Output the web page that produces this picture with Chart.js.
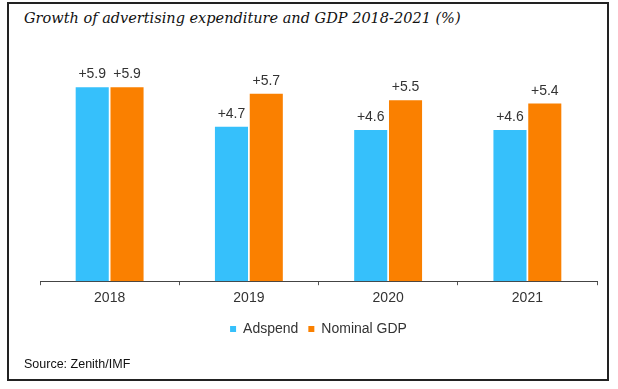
<!DOCTYPE html>
<html>
<head>
<meta charset="utf-8">
<script src="https://cdn.jsdelivr.net/npm/chart.js@4"></script>
<style>
  html, body { margin: 0; padding: 0; background: #fff; }
  #wrap { position: relative; width: 618px; height: 389px; }
  #frame { position: absolute; left: 7px; top: 2px; width: 598px; height: 375px; border: 2px solid #222; }
  #title { position: absolute; left: 24px; top: 10px; font: italic 14.5px "DejaVu Serif", serif; color: #111; white-space: nowrap; }
  #source { position: absolute; left: 24px; top: 357px; font: 12.5px "Liberation Sans", Arial, sans-serif; color: #111; }
  canvas { position: absolute; left: 0; top: 0; }
</style>
</head>
<body>
<div id="wrap">
  <div id="frame"></div>
  <div id="title">Growth of advertising expenditure and GDP 2018-2021 (%)</div>
  <canvas id="chart" width="618" height="389"></canvas>
  <div id="source">Source: Zenith/IMF</div>
</div>
<script>
const years = ['2018', '2019', '2020', '2021'];
const adspend = [5.9, 4.7, 4.6, 4.6];
const nominalGdp = [5.9, 5.7, 5.5, 5.4];

const blue = '#36C0FB';
const orange = '#FA8000';

// draws the "+x.x" labels above each bar
const valueLabels = {
    id: 'valueLabels',
    afterDatasetsDraw(chart) {
        const ctx = chart.ctx;
        ctx.save();
        ctx.font = '14px "Liberation Sans", Arial, sans-serif';
        ctx.fillStyle = '#333';
        ctx.textAlign = 'center';
        ctx.textBaseline = 'alphabetic';
        chart.data.datasets.forEach((ds, i) => {
            chart.getDatasetMeta(i).data.forEach((bar, j) => {
                ctx.fillText('+' + ds.data[j].toFixed(1), bar.x, bar.y - 9);
            });
        });
        ctx.restore();
    }
};

new Chart(document.getElementById('chart'), {
    type: 'bar',
    data: {
        labels: years,
        datasets: [
            { label: 'Adspend', data: adspend, backgroundColor: blue },
            { label: 'Nominal GDP', data: nominalGdp, backgroundColor: orange }
        ]
    },
    options: {
        responsive: false,
        animation: false,
        layout: { padding: { left: 40, right: 21, top: 51, bottom: 43 } },
        datasets: { bar: { categoryPercentage: 0.5, barPercentage: 0.95 } },
        scales: {
            x: {
                grid: { drawOnChartArea: false, drawTicks: true, tickLength: 4, color: '#555' },
                border: { color: '#444', width: 1 },
                ticks: { color: '#333', padding: 5, font: { family: '"Liberation Sans", Arial, sans-serif', size: 14 } }
            },
            y: { display: false, min: 0, max: 7 }
        },
        plugins: {
            legend: {
                position: 'bottom',
                labels: {
                    boxWidth: 6, boxHeight: 6, padding: 10,
                    color: '#333',
                    font: { family: '"Liberation Sans", Arial, sans-serif', size: 14 }
                }
            },
            tooltip: { enabled: false }
        }
    },
    plugins: [valueLabels]
});
</script>
</body>
</html>
